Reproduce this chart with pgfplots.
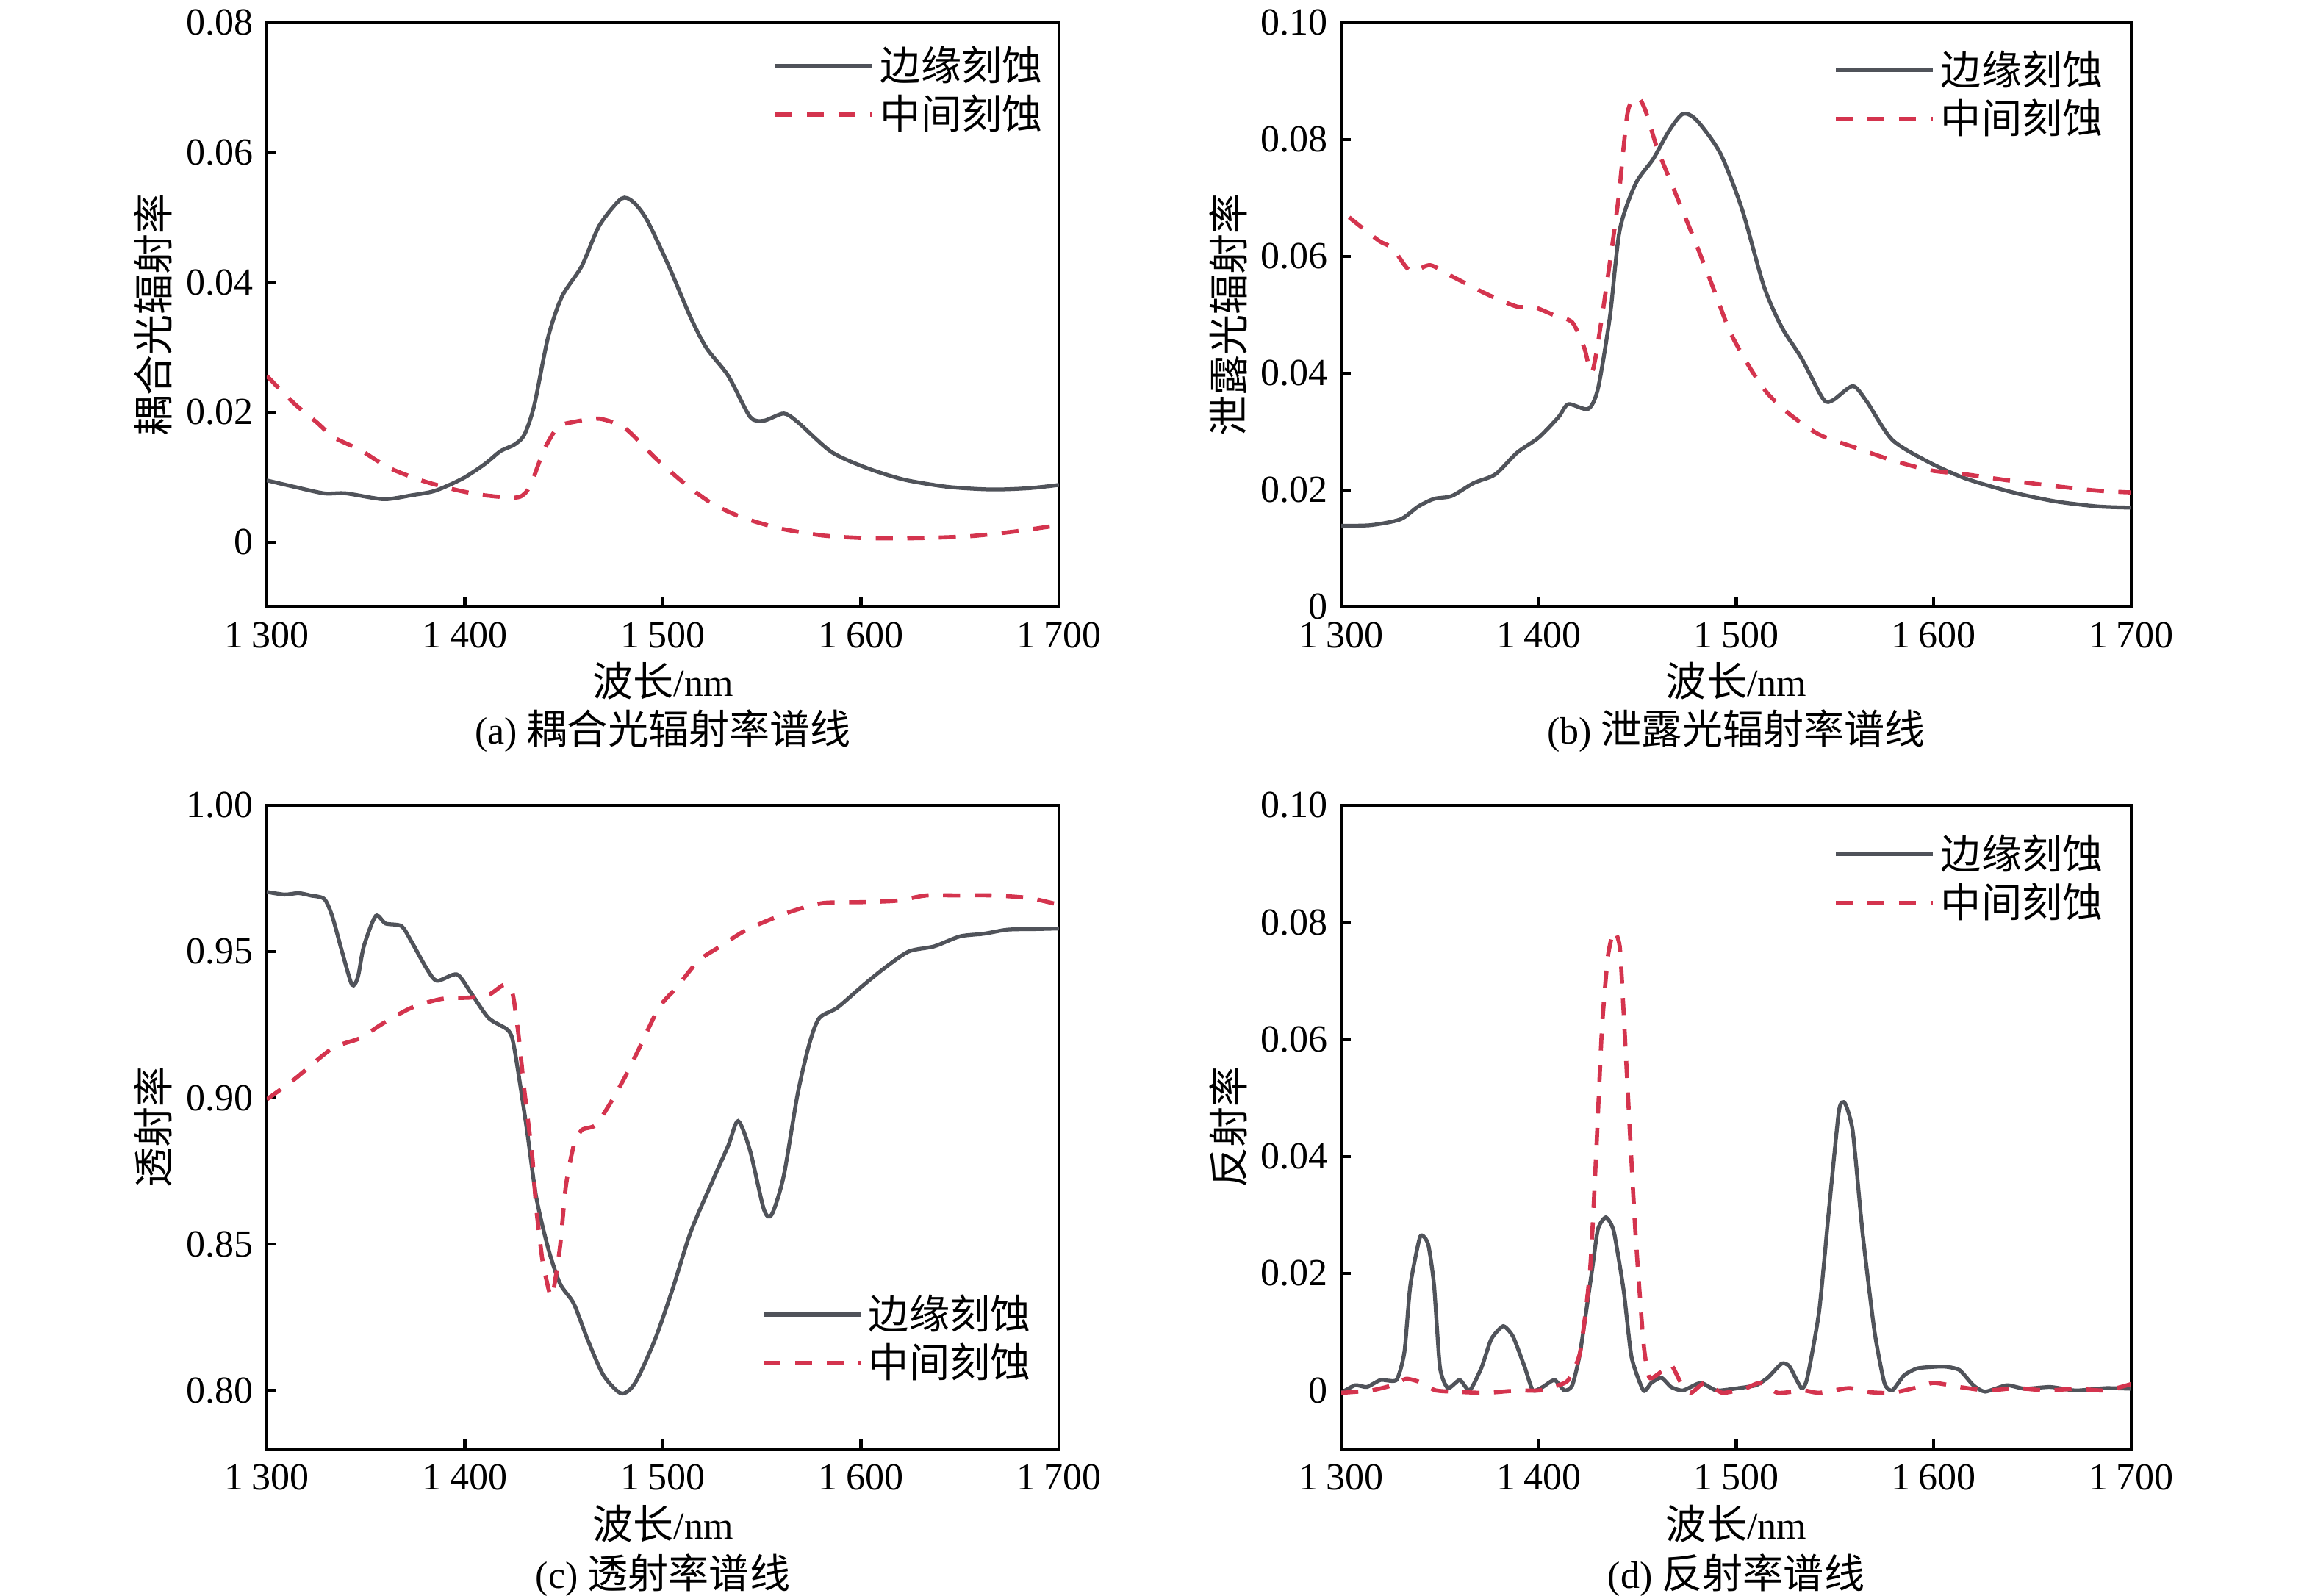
\documentclass[border=0pt]{standalone}
\usepackage{fontspec}
\setmainfont{Liberation Serif}
\newfontfamily\cjk[Scale=1.06]{Noto Sans CJK SC}
\usepackage{pgfplots}
\pgfplotsset{compat=1.18}
\definecolor{edgec}{RGB}{80,83,90}
\definecolor{midc}{RGB}{212,52,78}
\pgfplotsset{
  panel/.style={
    scale only axis,
    xmin=1300, xmax=1700,
    xtick={1300,1400,1500,1600,1700},
    xticklabels={1\hspace{0.22em}300,1\hspace{0.22em}400,1\hspace{0.22em}500,1\hspace{0.22em}600,1\hspace{0.22em}700},
    scaled x ticks=false, scaled y ticks=false,
    xtick pos=left, ytick pos=left, tick align=inside,
    major tick length=0.065cm,
    every tick/.style={line width=0.6pt, black},
    axis line style={line width=0.65pt, black},
    xticklabel style={inner ysep=0pt, yshift=-0.38em},
    yticklabel style={inner ysep=0pt},
    xlabel={{\cjk 波长}/nm},
    legend cell align=left,
    legend style={draw=none, fill=none, row sep=-0.2mm,
      nodes={inner sep=0.4mm}},
    legend image code/.code={\draw[##1] (0cm,0cm) -- (0.66cm,0cm);},
  },
  edge/.style={color=edgec, line width=0.75pt, smooth, tension=0.45},
  mid/.style={color=midc, line width=0.8pt, dash pattern=on 3.3pt off 2.8pt, smooth, tension=0.45},
}
\begin{document}
\fontsize{7.4pt}{8.9pt}\selectfont
\begin{tikzpicture}
\path[use as bounding box] (0cm,0cm) rectangle (15.75cm,10.86cm);
% ---------------- (a)
\begin{axis}[panel, at={(1.815cm,6.73cm)}, anchor=south west,
  width=5.39cm, height=3.975cm,
  ymin=-0.01, ymax=0.08,
  ytick={0,0.02,0.04,0.06,0.08}, yticklabels={0,0.02,0.04,0.06,0.08},
  ylabel={\cjk 耦合光辐射率},
  ylabel style={at={(axis description cs:-0.143,0.5)}, anchor=center},
  xlabel style={at={(axis description cs:0.5,-0.127)}, anchor=center},
  legend style={at={(1,1)}, anchor=north east, xshift=0.04cm, yshift=-0.04cm},
  extra description/.code={\node at (0.5,-0.2126) {(a) {\cjk 耦合光辐射率谱线}};}]
\addplot[edge] coordinates {(1300,0.0095)(1314,0.0085)(1329,0.0075)(1340,0.0075)(1359,0.0066)(1373,0.0072)(1385,0.0079)(1399,0.0098)(1410,0.012)(1418,0.014)(1425,0.015)(1430,0.0165)(1435,0.021)(1442,0.0315)(1449,0.0378)(1459,0.0425)(1468,0.0488)(1479,0.0529)(1485,0.0524)(1492,0.0496)(1503,0.0425)(1514,0.0346)(1522,0.0299)(1533,0.0256)(1544,0.0193)(1551,0.0187)(1561,0.0198)(1568,0.0185)(1585,0.0139)(1603,0.0114)(1622,0.0096)(1644,0.0085)(1666,0.0081)(1685,0.0083)(1700,0.0088)};
\addlegendentry{\cjk 边缘刻蚀}
\addplot[mid] coordinates {(1300,0.0256)(1314,0.0213)(1325,0.0185)(1334,0.0161)(1347,0.0142)(1362,0.0114)(1379,0.0094)(1396,0.008)(1410,0.0072)(1427,0.0069)(1433,0.0087)(1440,0.0142)(1447,0.0177)(1455,0.0185)(1468,0.019)(1481,0.0175)(1496,0.013)(1511,0.009)(1525,0.0059)(1540,0.0038)(1559,0.0021)(1581,0.001)(1603,0.0006)(1629,0.0006)(1655,0.0009)(1677,0.0016)(1700,0.0026)};
\addlegendentry{\cjk 中间刻蚀}
\end{axis}
% ---------------- (b)
\begin{axis}[panel, at={(9.125cm,6.73cm)}, anchor=south west,
  width=5.375cm, height=3.975cm,
  ymin=0, ymax=0.10,
  ytick={0,0.02,0.04,0.06,0.08,0.10}, yticklabels={0,0.02,0.04,0.06,0.08,0.10},
  ylabel={\cjk 泄露光辐射率},
  ylabel style={at={(axis description cs:-0.143,0.5)}, anchor=center},
  xlabel style={at={(axis description cs:0.5,-0.127)}, anchor=center},
  legend style={at={(1,1)}, anchor=north east, xshift=-0.04cm, yshift=-0.07cm},
  extra description/.code={\node at (0.5,-0.2126) {(b) {\cjk 泄露光辐射率谱线}};}]
\addplot[edge] coordinates {(1300,0.0139)(1315,0.014)(1330,0.015)(1339,0.0172)(1347,0.0185)(1356,0.019)(1367,0.0212)(1378,0.0227)(1389,0.0264)(1400,0.029)(1410,0.0325)(1415,0.0347)(1425,0.0339)(1430,0.0374)(1436,0.0496)(1441,0.0645)(1449,0.0724)(1458,0.0767)(1466,0.0815)(1473,0.0844)(1480,0.0833)(1492,0.0776)(1503,0.068)(1514,0.0549)(1523,0.0479)(1533,0.0426)(1544,0.0356)(1549,0.0354)(1559,0.0378)(1566,0.0352)(1579,0.0286)(1598,0.0247)(1616,0.022)(1639,0.0197)(1661,0.0181)(1683,0.0172)(1700,0.017)};
\addlegendentry{\cjk 边缘刻蚀}
\addplot[mid] coordinates {(1304,0.0667)(1319,0.0627)(1326,0.0614)(1335,0.0575)(1345,0.0585)(1356,0.0566)(1374,0.0535)(1389,0.0514)(1397,0.0514)(1408,0.0499)(1417,0.0487)(1423,0.0444)(1427,0.0402)(1432,0.0496)(1440,0.0689)(1445,0.0846)(1450,0.0872)(1454,0.085)(1460,0.0785)(1469,0.071)(1479,0.0627)(1488,0.0549)(1497,0.047)(1507,0.0409)(1516,0.0365)(1527,0.033)(1542,0.0295)(1560,0.0273)(1579,0.0251)(1598,0.0234)(1616,0.0227)(1639,0.0216)(1661,0.0207)(1683,0.0199)(1700,0.0196)};
\addlegendentry{\cjk 中间刻蚀}
\end{axis}
% ---------------- (c)
\begin{axis}[panel, at={(1.815cm,1.0cm)}, anchor=south west,
  width=5.39cm, height=4.38cm,
  ymin=0.78, ymax=1.00,
  ytick={0.80,0.85,0.90,0.95,1.00}, yticklabels={0.80,0.85,0.90,0.95,1.00},
  ylabel={\cjk 透射率},
  ylabel style={at={(axis description cs:-0.143,0.5)}, anchor=center},
  xlabel style={at={(axis description cs:0.5,-0.1164)}, anchor=center},
  legend style={at={(1,0)}, anchor=south east, xshift=-0.04cm, yshift=0.33cm},
  extra description/.code={\node at (0.5,-0.1963) {(c) {\cjk 透射率谱线}};}]
\addplot[edge] coordinates {(1300,0.9704)(1309,0.9695)(1316,0.970)(1322,0.9692)(1329,0.968)(1333,0.9622)(1338,0.950)(1343,0.9387)(1346,0.9413)(1349,0.9518)(1355,0.9622)(1360,0.9596)(1368,0.9587)(1373,0.9535)(1381,0.9439)(1386,0.940)(1396,0.9422)(1403,0.936)(1412,0.9273)(1422,0.923)(1425,0.9169)(1431,0.8907)(1436,0.8663)(1442,0.8488)(1448,0.8366)(1455,0.8297)(1462,0.8174)(1470,0.8052)(1479,0.799)(1486,0.8026)(1496,0.8174)(1505,0.8349)(1514,0.8541)(1525,0.8715)(1533,0.8837)(1538,0.8921)(1544,0.882)(1551,0.8619)(1555,0.8602)(1561,0.8733)(1568,0.9012)(1574,0.9186)(1579,0.9273)(1588,0.9308)(1600,0.9378)(1611,0.9439)(1624,0.950)(1637,0.9518)(1650,0.9552)(1662,0.9561)(1674,0.9575)(1688,0.9577)(1700,0.9579)};
\addlegendentry{\cjk 边缘刻蚀}
\addplot[mid] coordinates {(1300,0.8995)(1314,0.9064)(1333,0.9169)(1347,0.9204)(1359,0.9256)(1373,0.9308)(1388,0.9338)(1403,0.9343)(1412,0.9352)(1420,0.9387)(1424,0.936)(1427,0.9221)(1430,0.9029)(1434,0.8802)(1436,0.8628)(1439,0.8454)(1441,0.8384)(1444,0.8323)(1448,0.8488)(1451,0.8698)(1455,0.8837)(1459,0.889)(1466,0.8907)(1473,0.8977)(1481,0.9073)(1488,0.9169)(1498,0.9308)(1507,0.9378)(1518,0.9469)(1529,0.9518)(1540,0.9566)(1551,0.9601)(1566,0.964)(1581,0.9666)(1600,0.9669)(1618,0.9674)(1633,0.9692)(1648,0.9692)(1666,0.9692)(1685,0.9683)(1700,0.966)};
\addlegendentry{\cjk 中间刻蚀}
\end{axis}
% ---------------- (d)
\begin{axis}[panel, at={(9.125cm,1.0cm)}, anchor=south west,
  width=5.375cm, height=4.38cm,
  ymin=-0.01, ymax=0.10,
  ytick={0,0.02,0.04,0.06,0.08,0.10}, yticklabels={0,0.02,0.04,0.06,0.08,0.10},
  ylabel={\cjk 反射率},
  ylabel style={at={(axis description cs:-0.143,0.5)}, anchor=center},
  xlabel style={at={(axis description cs:0.5,-0.1164)}, anchor=center},
  legend style={at={(1,1)}, anchor=north east, xshift=-0.04cm, yshift=-0.08cm},
  extra description/.code={\node at (0.5,-0.1963) {(d) {\cjk 反射率谱线}};}]
\addplot[edge, tension=0.35] coordinates {(1300,-0.0004)(1307,0.0009)(1313,0.0006)(1320,0.0018)(1328,0.0018)(1332,0.0066)(1335,0.018)(1340,0.0263)(1344,0.025)(1347,0.018)(1350,0.0039)(1354,0.0004)(1360,0.0018)(1365,0)(1371,0.0039)(1376,0.0088)(1382,0.011)(1387,0.0092)(1393,0.0039)(1397,0)(1402,0.0006)(1408,0.0018)(1413,0)(1417,0.0009)(1421,0.0066)(1427,0.0206)(1430,0.0276)(1434,0.0296)(1438,0.0272)(1443,0.0171)(1447,0.0057)(1453,0)(1457,0.0013)(1462,0.0022)(1467,0.0006)(1473,0)(1482,0.0013)(1490,0)(1501,0.0004)(1510,0.0009)(1516,0.0022)(1523,0.0046)(1527,0.0041)(1533,0.0004)(1536,0.0022)(1542,0.0136)(1547,0.0311)(1552,0.0478)(1555,0.0491)(1559,0.0443)(1564,0.0268)(1570,0.0101)(1575,0.0013)(1579,0)(1585,0.0026)(1592,0.0038)(1605,0.0041)(1613,0.0035)(1620,0.0009)(1626,-0.0002)(1637,0.0009)(1646,0.0003)(1659,0.0006)(1672,0)(1687,0.0004)(1700,0.0003)};
\addlegendentry{\cjk 边缘刻蚀}
\addplot[mid, tension=0.35] coordinates {(1300,-0.0004)(1315,0)(1326,0.0009)(1333,0.002)(1341,0.0013)(1348,0)(1363,-0.0003)(1374,-0.0004)(1389,0)(1400,0)(1410,0.0009)(1415,0.0018)(1421,0.0066)(1426,0.0206)(1429,0.0399)(1432,0.0618)(1435,0.0741)(1438,0.0785)(1441,0.0759)(1443,0.0645)(1446,0.0452)(1449,0.0268)(1453,0.0083)(1456,0.0022)(1462,0.0032)(1467,0.0044)(1472,0.0013)(1477,-0.0004)(1484,0.0013)(1493,-0.0004)(1505,0.0004)(1512,0.0013)(1521,-0.0004)(1534,0)(1542,-0.0004)(1557,0.0004)(1568,-0.0003)(1579,-0.0004)(1590,0.0004)(1600,0.0013)(1613,0.0006)(1627,0)(1642,0.0004)(1657,0)(1672,0.0003)(1687,0)(1700,0.0011)};
\addlegendentry{\cjk 中间刻蚀}
\end{axis}
\end{tikzpicture}
\end{document}
